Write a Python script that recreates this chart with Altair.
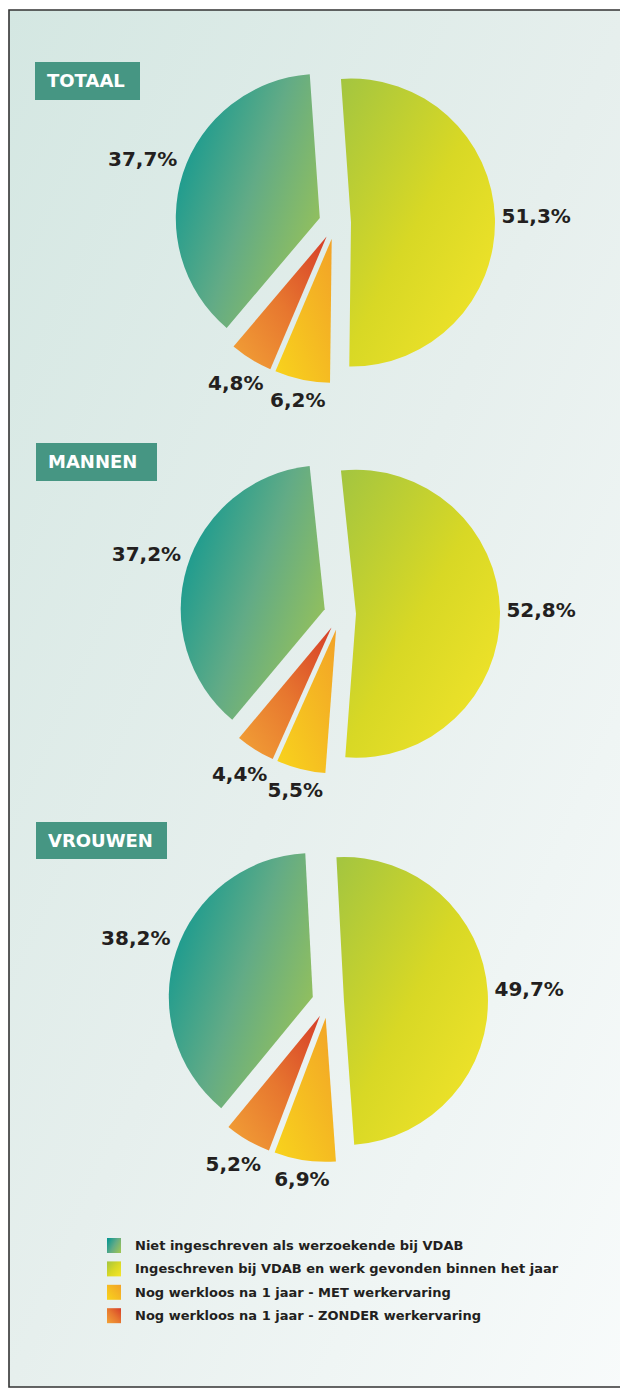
import altair as alt
import pandas as pd

# ---------------- data ----------------
panels = ["TOTAAL", "MANNEN", "VROUWEN"]
categories = [
    "Ingeschreven bij VDAB en werk gevonden binnen het jaar",
    "Nog werkloos na 1 jaar - MET werkervaring",
    "Nog werkloos na 1 jaar - ZONDER werkervaring",
    "Niet ingeschreven als werzoekende bij VDAB",
]
totaal = [51.3, 6.2, 4.8, 37.7]
mannen = [52.8, 5.5, 4.4, 37.2]
vrouwen = [49.7, 6.9, 5.2, 38.2]
legend_order = [
    "Niet ingeschreven als werzoekende bij VDAB",
    "Ingeschreven bij VDAB en werk gevonden binnen het jaar",
    "Nog werkloos na 1 jaar - MET werkervaring",
    "Nog werkloos na 1 jaar - ZONDER werkervaring",
]

# ---------------- layout / style ----------------
W, H = 612, 1380
RADIUS = 144
EXPLODE = 16
FONT = "DejaVu Sans"
layout = {
    "TOTAAL": dict(cx=327, cy=215, start=-4, bx=27, by=54, bw=105, bh=38),
    "MANNEN": dict(cx=332, cy=606, start=-6, bx=28, by=435, bw=121, bh=38),
    "VROUWEN": dict(cx=320, cy=994, start=-3, bx=28, by=814, bw=131, bh=37),
}


def pick(key):
    expr = str(layout[panels[-1]][key])
    for p in reversed(panels[:-1]):
        expr = f"datum.panel == '{p}' ? {layout[p][key]} : ({expr})"
    return expr


def grad(c0, c1, x1, y1, x2, y2, mid=None):
    stops = [{"offset": 0, "color": c0}]
    if mid:
        stops.append({"offset": 0.5, "color": mid})
    stops.append({"offset": 1, "color": c1})
    return {"gradient": "linear", "x1": x1, "y1": y1, "x2": x2, "y2": y2, "stops": stops}


gradients = {
    categories[0]: grad("#a3c540", "#f6e62b", 0, 0, 1, 1, mid="#d8d825"),
    categories[1]: grad("#f8d41c", "#f2a228", 0, 1, 1, 0),
    categories[2]: grad("#d63e29", "#f2a236", 1, 0, 0, 1, mid="#e7772f"),
    categories[3]: grad("#0d9891", "#9cc455", 0, 0.2, 1, 0.8, mid="#62ab86"),
}

# ---------------- tables ----------------
series = {"TOTAAL": totaal, "MANNEN": mannen, "VROUWEN": vrouwen}
rows = []
for p in panels:
    for k, (c, v) in enumerate(zip(categories, series[p])):
        rows.append({"panel": p, "cat": c, "value": v, "k": k})
pie_df = pd.DataFrame(rows)

base = (
    alt.Chart(pie_df)
    .transform_joinaggregate(total="sum(value)", groupby=["panel"])
    .transform_window(cum="sum(value)", sort=[alt.SortField("k")], groupby=["panel"], frame=[None, 0])
    .transform_calculate(cx=pick("cx"))
    .transform_calculate(cy=pick("cy"))
    .transform_calculate(start=pick("start"))
    .transform_calculate(t1="datum.start*PI/180 + 2*PI*datum.cum/datum.total")
    .transform_calculate(t0="datum.t1 - 2*PI*datum.value/datum.total")
    .transform_calculate(mid="(datum.t0 + datum.t1)/2")
    .transform_calculate(px=f"datum.cx + {EXPLODE}*sin(datum.mid)")
    .transform_calculate(py=f"datum.cy - {EXPLODE}*cos(datum.mid)")
)

layers = []

# background + frame
bg_df = pd.DataFrame({"a": [0]})
layers.append(
    alt.Chart(bg_df)
    .mark_rect(
        fill=grad("#d4e7e2", "#f8fbfb", 0, 0, 1, 1, mid="#e6efed"),
        stroke="#333333",
        strokeWidth=1.6,
    )
    .encode(x=alt.value(1), x2=alt.value(W + 10), y=alt.value(2), y2=alt.value(H - 1))
)

# pie slices
for c in categories:
    layers.append(
        base.transform_filter(alt.datum.cat == c)
        .mark_arc(radius=RADIUS, fill=gradients[c])
        .encode(
            x=alt.X("px:Q", scale=None),
            y=alt.Y("py:Q", scale=None),
            theta=alt.Theta("t0:Q", scale=None),
            theta2="t1:Q",
        )
    )

# value labels
layers.append(
    base.transform_calculate(label="replace(format(datum.value, '.1f'), '.', ',') + '%'")
    .transform_calculate(hw="7*length(datum.label)")
    .transform_calculate(lr=f"{RADIUS + EXPLODE + 6} + abs(sin(datum.mid))*datum.hw + abs(cos(datum.mid))*10")
    .transform_calculate(lx="datum.cx + datum.lr*sin(datum.mid)")
    .transform_calculate(ly="datum.cy - datum.lr*cos(datum.mid)")
    .mark_text(font=FONT, fontWeight="bold", fontSize=20, color="#231f20", align="center", baseline="middle")
    .encode(x=alt.X("lx:Q", scale=None), y=alt.Y("ly:Q", scale=None), text="label:N")
)

# panel titles
title_df = pd.DataFrame({"panel": panels})
tbase = (
    alt.Chart(title_df)
    .transform_calculate(bx=pick("bx"))
    .transform_calculate(by=pick("by"))
    .transform_calculate(bw=pick("bw"))
    .transform_calculate(bh=pick("bh"))
    .transform_calculate(bx2="datum.bx + datum.bw", by2="datum.by + datum.bh")
    .transform_calculate(tx="datum.bx + 12", ty="datum.by + datum.bh/2 + 1")
)
layers.append(
    tbase.mark_rect(fill="#469683").encode(
        x=alt.X("bx:Q", scale=None), x2="bx2:Q", y=alt.Y("by:Q", scale=None), y2="by2:Q"
    )
)
layers.append(
    tbase.mark_text(font=FONT, fontWeight="bold", fontSize=18, color="#ffffff", align="left", baseline="middle")
    .encode(x=alt.X("tx:Q", scale=None), y=alt.Y("ty:Q", scale=None), text="panel:N")
)

# legend
leg_df = pd.DataFrame({"cat": legend_order, "i": list(range(len(legend_order)))})
lbase = (
    alt.Chart(leg_df)
    .transform_calculate(sy="1230 + datum.i*23.4")
    .transform_calculate(sy2="datum.sy + 15", ty="datum.sy + 8")
)
for c in legend_order:
    layers.append(
        lbase.transform_filter(alt.datum.cat == c)
        .mark_rect(fill=gradients[c])
        .encode(x=alt.value(99), x2=alt.value(113), y=alt.Y("sy:Q", scale=None), y2="sy2:Q")
    )
layers.append(
    lbase.mark_text(font=FONT, fontWeight="bold", fontSize=13, color="#231f20", align="left", baseline="middle")
    .encode(x=alt.value(127), y=alt.Y("ty:Q", scale=None), text="cat:N")
)

chart = (
    alt.layer(*layers)
    .properties(width=W, height=H, padding=0, autosize=alt.AutoSizeParams(type="none"), background="#ffffff")
    .configure_view(stroke=None)
)

chart.save("out.html", embed_options={"renderer": "svg", "actions": False})
